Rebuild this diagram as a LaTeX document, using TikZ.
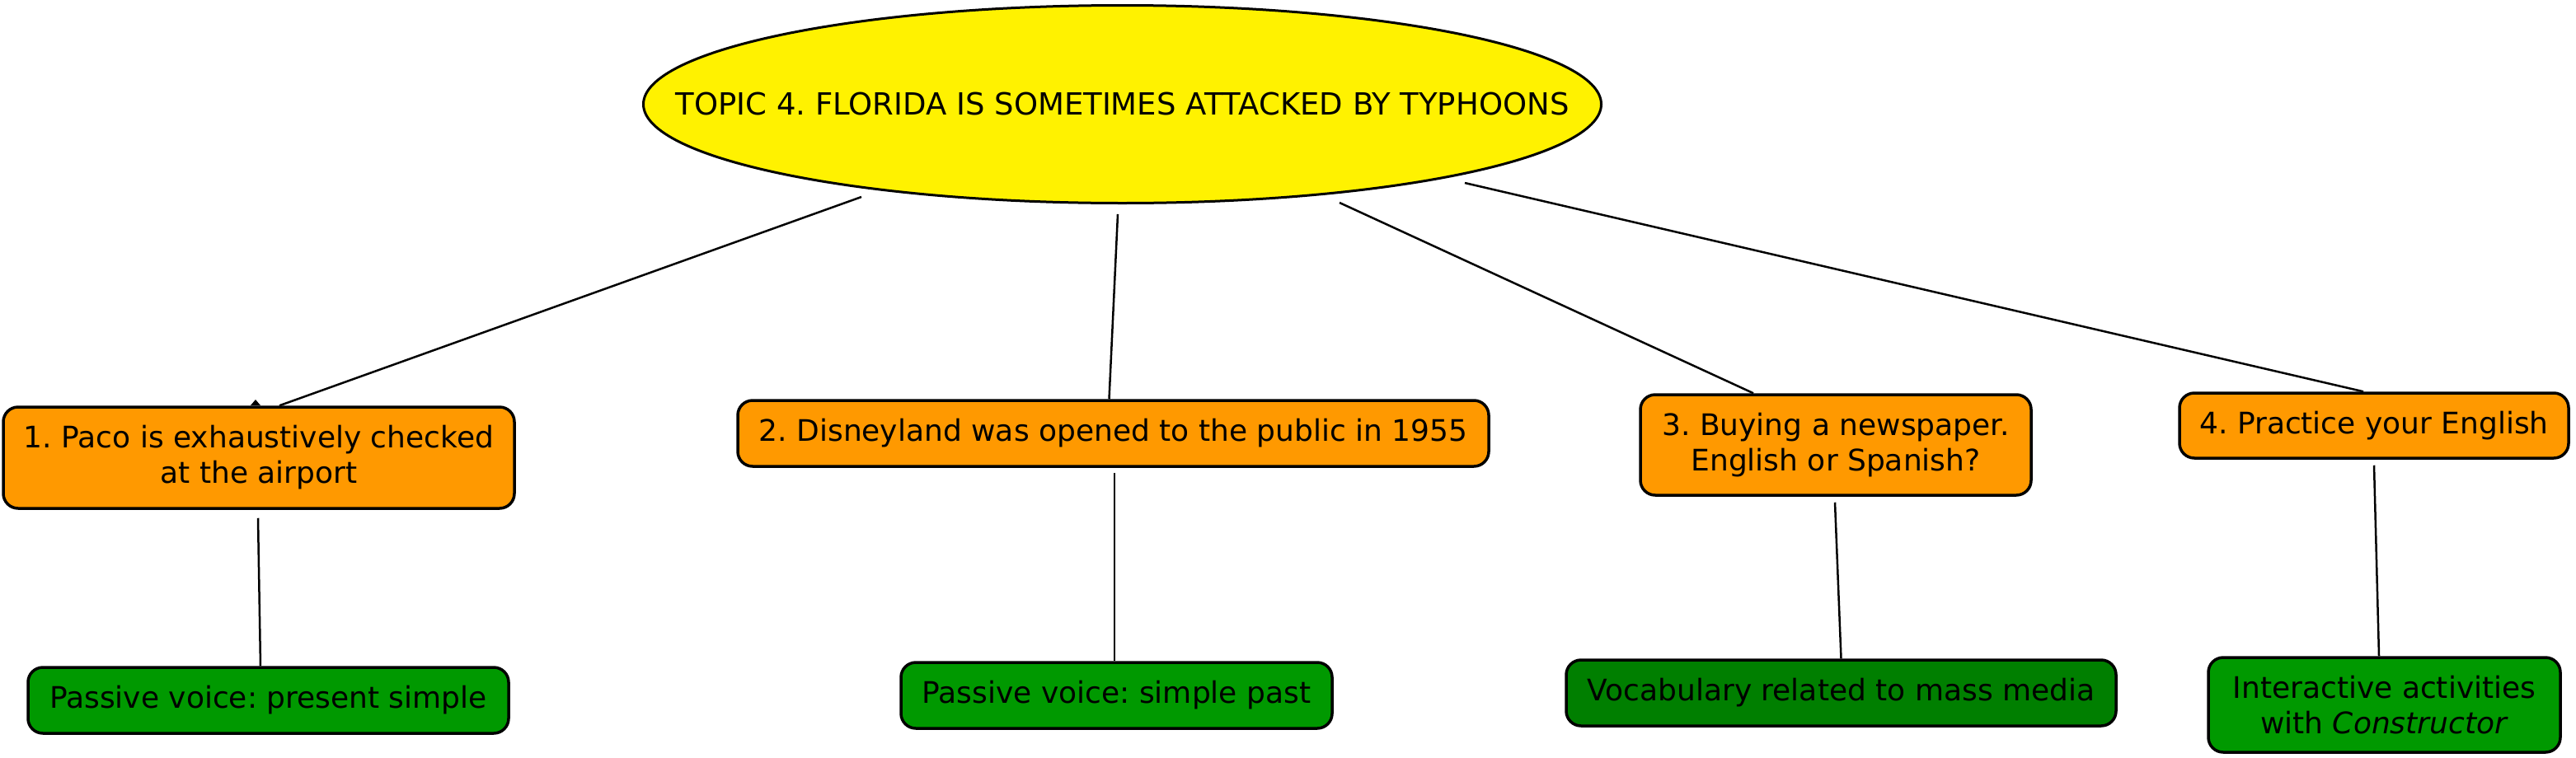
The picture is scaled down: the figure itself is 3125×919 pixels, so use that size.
\documentclass[tikz,border=0pt]{standalone}
\usepackage{fontspec}
\setmainfont{DejaVu Sans}
\usetikzlibrary{shapes.geometric}
\definecolor{orangebox}{HTML}{FF9900}
\definecolor{greenbox}{HTML}{009900}
\definecolor{darkgreenbox}{HTML}{007F00}
\frenchspacing
\begin{document}
\begin{tikzpicture}[x=1pt,y=-1pt,
  topic/.style={ellipse, draw, line width=3pt, fill=yellow, inner sep=0pt,
    minimum width=1162pt, minimum height=240pt, font=\fontsize{37}{44}\selectfont},
  conceptbox/.style={rectangle, rounded corners=18pt, draw, line width=3.5pt,
    inner sep=0pt, align=center, font=\fontsize{36}{43}\selectfont},
  orbox/.style={conceptbox, fill=orangebox},
  grbox/.style={conceptbox, fill=greenbox},
  dgrbox/.style={conceptbox, fill=darkgreenbox},
  link/.style={line width=2.5pt}]
\useasboundingbox (0,0) rectangle (3125,919);
\fill[white] (0,0) rectangle (3125,919);

\node[topic] (topic) at (1361.5,126.5) {\makebox[0pt]{TOPIC 4. FLORIDA IS SOMETIMES ATTACKED BY TYPHOONS}};

\node[orbox, minimum width=620pt, minimum height=123pt] (b1) at (314,555.5)
  {1. Paco is exhaustively checked\\at the airport};
\node[orbox, minimum width=911pt, minimum height=80pt] (b2) at (1350.5,526)
  {2. Disneyland was opened to the public in 1955};
\node[orbox, minimum width=474pt, minimum height=122pt] (b3) at (2227,540)
  {3. Buying a newspaper.\\English or Spanish?};
\node[orbox, minimum width=472pt, minimum height=79pt] (b4) at (2880,516.5)
  {4. Practice your English};

\node[grbox, minimum width=583pt, minimum height=80pt] (g1) at (325.5,850)
  {Passive voice: present simple};
\node[grbox, minimum width=523pt, minimum height=80pt] (g2) at (1354.5,844)
  {Passive voice: simple past};
\node[dgrbox, minimum width=667pt, minimum height=80pt] (g3) at (2233.5,841)
  {Vocabulary related to mass media};
\node[grbox, minimum width=427pt, minimum height=115pt] (g4) at (2892.5,855.5)
  {Interactive activities\\with \textit{Constructor}};

\coordinate (c1) at (1045,239);
\coordinate (c2) at (1356,260);
\coordinate (c3) at (1625,246);
\coordinate (c4) at (1777,222);

\draw[link] (c1) -- ([xshift=25pt]b1.north);
\draw[link] (c2) -- ([xshift=-5pt]b2.north);
\draw[link] (c3) -- ([xshift=-100pt]b3.north);
\draw[link] (c4) -- ([xshift=-13pt]b4.north);

\draw[link] ([xshift=-1pt,yshift=-10pt]b1.south) -- ([xshift=-9.5pt]g1.north);
\draw[link] ([xshift=1.5pt,yshift=-6pt]b2.south) -- ([xshift=-2.5pt]g2.north);
\draw[link] ([xshift=-1pt,yshift=-7pt]b3.south) -- (g3.north);
\draw[link] ([yshift=-7pt]b4.south) -- ([xshift=-6.5pt]g4.north);

\fill (304,492) -- (310,485) -- (316,492) -- cycle;
\end{tikzpicture}
\end{document}
